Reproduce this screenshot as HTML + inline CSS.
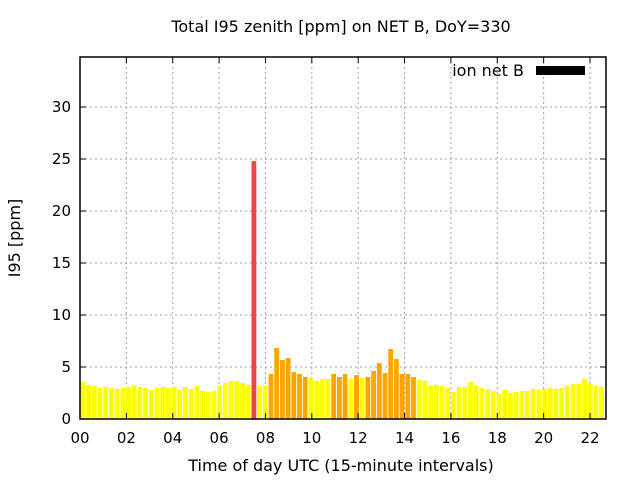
<!DOCTYPE html>
<html><head><meta charset="utf-8"><style>
body{margin:0;background:#fff}
svg text{font-family:"DejaVu Sans","Liberation Sans",sans-serif;fill:#000}
</style></head><body>
<svg id="chart" width="640" height="480" xmlns="http://www.w3.org/2000/svg">
<text x="341" y="32" font-size="16" text-anchor="middle">Total I95 zenith [ppm] on NET B, DoY=330</text>
<g id="grid"></g><g id="bars"></g><g id="axes"></g>
<text transform="translate(20,238) rotate(-90)" font-size="16" text-anchor="middle">I95 [ppm]</text>
<text x="341" y="471" font-size="16" text-anchor="middle">Time of day UTC (15-minute intervals)</text>
<g>
<text x="524" y="76" font-size="16" text-anchor="end">ion net B</text>
<rect x="536" y="66" width="49" height="9" fill="#000"/>
</g>
</svg>
<script>
const values=[3.59,3.27,3.17,2.98,3.08,2.98,2.88,2.98,3.08,3.17,3.08,2.98,2.79,2.98,3.08,2.98,3.08,2.79,3.08,2.88,3.17,2.69,2.6,2.69,3.17,3.46,3.65,3.65,3.46,3.27,
24.8,
3.17,3.17,4.33,6.83,5.67,5.87,4.52,4.33,4.04,3.94,3.65,3.85,3.85,4.33,4.04,4.33,3.85,4.23,3.94,4.04,4.62,5.38,4.42,6.73,5.77,4.33,4.33,4.04,3.75,
3.65,3.17,3.27,3.17,2.98,2.6,3.08,3.08,3.56,3.17,2.98,2.88,2.69,2.4,2.79,2.5,2.6,2.69,2.69,2.88,2.79,2.88,2.98,2.88,2.98,3.17,3.37,3.37,3.85,3.37,3.17,3.08];
const yTicks=[0,5,10,15,20,25,30];
const xTicks=["00","02","04","06","08","10","12","14","16","18","20","22"];
const NS="http://www.w3.org/2000/svg";
const X0=80,X1=606,Y0=419,YT=57;
const xs=h=>X0+h*(510/22);
const bx=i=>X0+0.5+i*5.7;
const ys=v=>Y0-v*10.4;
function mk(t,a,p){const e=document.createElementNS(NS,t);for(const k in a)e.setAttribute(k,a[k]);p.appendChild(e);return e;}
const grid=document.getElementById('grid'),axes=document.getElementById('axes'),bars=document.getElementById('bars');
yTicks.forEach(v=>{
 const y=ys(v);
 if(v>0){const g=mk('line',{x1:X0,x2:X1,y1:y,y2:y,stroke:'#a0a0a0','stroke-dasharray':'2,3'},grid);
 
 }
 const t=mk('text',{x:X0-9,y:y+5,'font-size':15,'text-anchor':'end'},axes);t.textContent=v;
 
 
 mk('line',{x1:X0,x2:X0+6,y1:y,y2:y,stroke:'#000'},axes);
 mk('line',{x1:X1,x2:X1-6,y1:y,y2:y,stroke:'#000'},axes);
});
xTicks.forEach(l=>{
 const x=xs(+l);
 if(+l>0){const g=mk('line',{x1:x,x2:x,y1:YT,y2:Y0,stroke:'#a0a0a0','stroke-dasharray':'2,3'},grid);
 
 }
 const t=mk('text',{x:x,y:Y0+24,'font-size':15,'text-anchor':'middle'},axes);t.textContent=l;
 
 
 mk('line',{x1:x,x2:x,y1:Y0,y2:Y0-6,stroke:'#000'},axes);
 mk('line',{x1:x,x2:x,y1:YT,y2:YT+6,stroke:'#000'},axes);
});
values.forEach((v,i)=>{
 const c=v>10?'#ee4444':(v>=4?'#ffa500':'#ffff00');
 const r=mk('rect',{x:bx(i),y:ys(v),width:4.8,height:Y0-ys(v),fill:c},bars);
 
 
});
const f=mk('rect',{x:X0,y:YT,width:X1-X0,height:Y0-YT,fill:'none',stroke:'#000','stroke-width':1.5},axes);


</script>
</body></html>
